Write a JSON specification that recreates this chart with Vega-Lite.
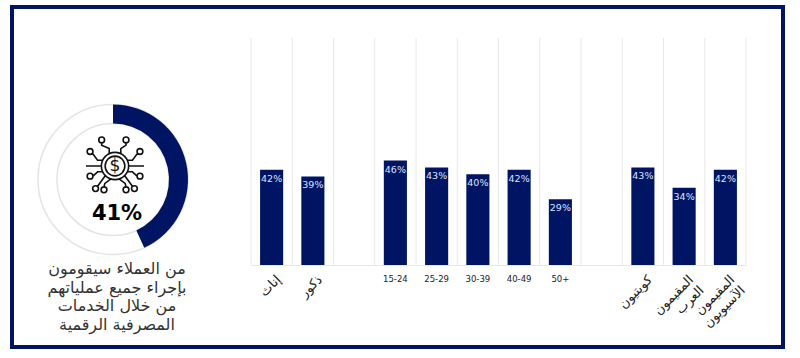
{
"$schema":"https://vega.github.io/schema/vega-lite/v6.json",
"width":771,"height":340,
"padding":{"left":12,"top":7,"right":17,"bottom":11},
"autosize":{"type":"none"},
"background":"#ffffff",
"view":{"stroke":"#001464","strokeWidth":4},
"datasets":{"bars":[
{"c":"إناث","label":"إناث","v":42,"g":"ar"},
{"c":"ذكور","label":"ذكور","v":39,"g":"ar"},
{"c":"gap1","label":"","v":null,"g":"gap"},
{"c":"15-24","label":"15-24","v":46,"g":"num"},
{"c":"25-29","label":"25-29","v":43,"g":"num"},
{"c":"30-39","label":"30-39","v":40,"g":"num"},
{"c":"40-49","label":"40-49","v":42,"g":"num"},
{"c":"50+","label":"50+","v":29,"g":"num"},
{"c":"gap2","label":"","v":null,"g":"gap"},
{"c":"كويتيون","label":"كويتيون","v":43,"g":"ar"},
{"c":"المقيمون العرب","label":"المقيمون\nالعرب","v":34,"g":"ar"},
{"c":"المقيمون الآسيويون","label":"المقيمون\nالآسيويون","v":42,"g":"ar"}
]},
"data":{"name":"bars"},
"resolve":{"scale":{"x":"shared","y":"shared"}},
"layer":[
{"mark":{"type":"rule","stroke":"#e8e8e8","strokeWidth":1},
 "encoding":{"x":{"field":"c","type":"nominal","bandPosition":0,"sort":null,
   "scale":{"range":[239,734],"padding":0},
   "axis":{"title":null,"labels":false,"ticks":false,"grid":false,"domainColor":"#e8e8e8","domainWidth":1,"offset":-82}},
  "y":{"datum":0,"type":"quantitative","scale":{"domain":[0,100],"range":[258,31]},"axis":null},"y2":{"datum":100}}},
{"transform":[{"filter":"datum.c === 'المقيمون الآسيويون'"}],
 "mark":{"type":"rule","stroke":"#e8e8e8","strokeWidth":1},
 "encoding":{"x":{"field":"c","type":"nominal","bandPosition":1,"sort":null},
  "y":{"datum":0,"type":"quantitative"},"y2":{"datum":100}}},
{"transform":[{"filter":"datum.v != null"}],
 "mark":{"type":"bar","color":"#001464","width":{"band":0.56}},
 "encoding":{"x":{"field":"c","type":"nominal","sort":null},"y":{"field":"v","type":"quantitative"}}},
{"transform":[{"filter":"datum.v != null"},{"calculate":"datum.v + '%'","as":"t"}],
 "mark":{"type":"text","color":"#dce4ff","font":"DejaVu Sans","fontSize":9.5,"baseline":"middle","dy":9},
 "encoding":{"x":{"field":"c","type":"nominal","sort":null},"y":{"field":"v","type":"quantitative"},"text":{"field":"t"}}},
{"transform":[{"filter":"datum.g === 'num'"}],
 "mark":{"type":"text","color":"#222222","font":"DejaVu Sans","fontSize":8.5,"baseline":"middle","dy":14},
 "encoding":{"x":{"field":"c","type":"nominal","sort":null},"y":{"datum":0,"type":"quantitative"},"text":{"field":"label"}}},
{"transform":[{"filter":"datum.g === 'ar'"}],
 "mark":{"type":"text","color":"#222222","font":"DejaVu Sans","fontSize":13,"angle":-45,"align":"right","baseline":"top","lineBreak":"\n","lineHeight":15,"dx":-4,"dy":8},
 "encoding":{"x":{"field":"c","type":"nominal","sort":null},"y":{"datum":0,"type":"quantitative"},"text":{"field":"label"}}},
{"data":{"values":[{"ring":"outer"}]},
 "mark":{"type":"arc","radius":75,"radius2":56,"theta":0,"theta2":6.2832,"fill":null,"stroke":"#e4e4e4","strokeWidth":1.5},
 "encoding":{"x":{"value":101},"y":{"value":172.5}}},
{"data":{"values":[{"share":41}]},
 "mark":{"type":"arc","radius":75,"radius2":56,"color":"#001464"},
 "encoding":{"theta":{"field":"share","type":"quantitative","scale":{"domain":[0,95]}},"x":{"value":101},"y":{"value":172.5}}},
{"data":{"values":[{"icon":"digital"}]},
 "mark":{"type":"point","filled":false,"stroke":"#111111","strokeWidth":1.6,"size":3364,"opacity":1,
  "shape":"M-.47 0a.47 .47 0 1 0 .94 0a.47 .47 0 1 0 -.94 0M-.34 0a.34 .34 0 1 0 .68 0a.34 .34 0 1 0 -.68 0M-.2 -.43L-.2 -.6L-.46 -.72L-.46 -.8M-.56 -.9a.1 .1 0 1 0 .2 0a.1 .1 0 1 0 -.2 0M.2 -.43L.2 -.6L.38 -.72L.38 -.8M.28 -.9a.1 .1 0 1 0 .2 0a.1 .1 0 1 0 -.2 0M-.42 -.2L-.6 -.2L-.78 -.44M-.96 -.5a.1 .1 0 1 0 .2 0a.1 .1 0 1 0 -.2 0M.42 -.2L.6 -.2L.78 -.44M.76 -.5a.1 .1 0 1 0 .2 0a.1 .1 0 1 0 -.2 0M-.47 0L-1 0M.47 0L1 0M-.42 .2L-.6 .2L-.76 .35M-.96 .35a.1 .1 0 1 0 .2 0a.1 .1 0 1 0 -.2 0M.42 .2L.6 .2L.76 .35M.76 .35a.1 .1 0 1 0 .2 0a.1 .1 0 1 0 -.2 0M-.33 .33L-.6 .7M-.77 .78a.1 .1 0 1 0 .2 0a.1 .1 0 1 0 -.2 0M-.15 .45L-.35 .6L-.38 .72M-.48 .82a.1 .1 0 1 0 .2 0a.1 .1 0 1 0 -.2 0M.33 .33L.6 .7M.57 .78a.1 .1 0 1 0 .2 0a.1 .1 0 1 0 -.2 0M.15 .45L.35 .6L.38 .72M.28 .82a.1 .1 0 1 0 .2 0a.1 .1 0 1 0 -.2 0"},
 "encoding":{"x":{"value":103},"y":{"value":159}}},
{"data":{"values":[{"t":"$"}]},
 "mark":{"type":"text","font":"DejaVu Sans","fontSize":17,"color":"#111111","baseline":"middle"},
 "encoding":{"x":{"value":103},"y":{"value":159},"text":{"field":"t"}}},
{"data":{"values":[{"t":"41%"}]},
 "mark":{"type":"text","font":"DejaVu Sans","fontWeight":"bold","fontSize":21,"color":"#000000","baseline":"middle"},
 "encoding":{"x":{"value":105},"y":{"value":207},"text":{"field":"t"}}},
{"data":{"values":[{"t":"من العملاء سيقومون\nبإجراء جميع عملياتهم\nمن خلال الخدمات\nالمصرفية الرقمية"}]},
 "mark":{"type":"text","font":"DejaVu Sans","fontSize":16,"color":"#333333","baseline":"top","lineBreak":"\n","lineHeight":18.5},
 "encoding":{"x":{"value":105},"y":{"value":254},"text":{"field":"t"}}}
]
}
